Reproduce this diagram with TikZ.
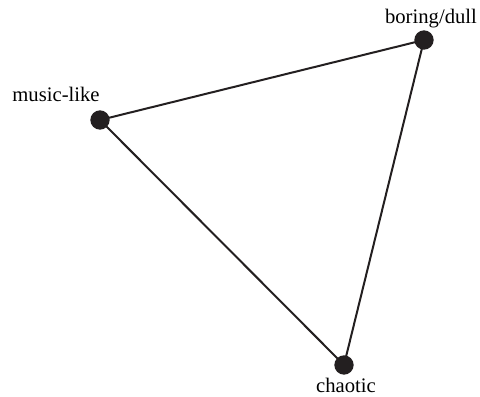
\documentclass[tikz,border=0pt]{standalone}
\usepackage{fontspec}
\setmainfont{Liberation Serif}
\usepackage{tikz}
\usetikzlibrary{positioning,calc}

\definecolor{dotcol}{HTML}{231F20}

\begin{document}
\begin{tikzpicture}[x=0.75pt,y=0.75pt,
    pt/.style={circle,fill=dotcol,inner sep=0pt,minimum size=14.5pt},
    lbl/.style={font=\fontsize{15.5}{18}\selectfont,inner sep=0pt,anchor=base}]
  \useasboundingbox (0,0) rectangle (480,397); % 全体の枠

  % 三角形の頂点となる黒丸
  \node[pt] (music) at (100,277) {};
  \node[pt] (boring) at (424,357) {};
  \node[pt] (chaotic) at (344,32) {};

  % 各頂点の名前
  \node[lbl] (musiclbl) at (56,295) {music-like};
  \node[lbl] (boringlbl) at (431,373) {boring/dull};
  \node[lbl] (chaoticlbl) at (346,4) {chaotic};

  % 三角形の辺
  \draw[line width=1.5pt,dotcol] (music.center) -- (boring.center) -- (chaotic.center) -- (music.center);
\end{tikzpicture}
\end{document}
